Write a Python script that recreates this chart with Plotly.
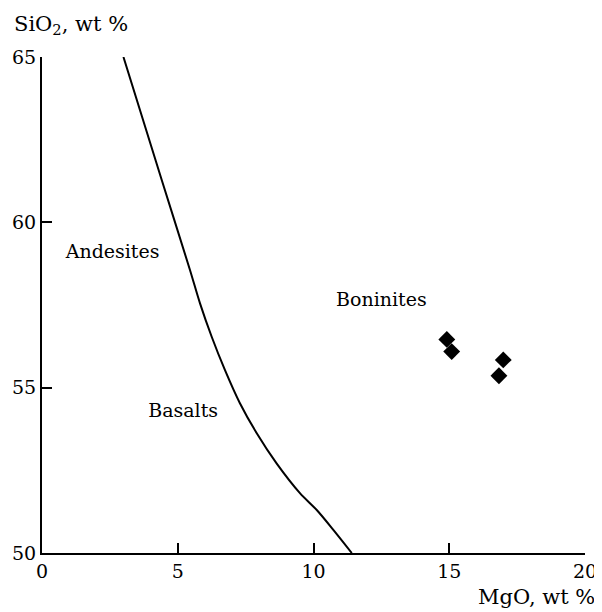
import plotly.graph_objects as go

# Boundary curve (MgO, SiO2)
curve_mgo = [3.0, 4.41, 5.45, 5.82, 6.25, 6.74, 7.29, 7.91, 8.64, 9.50, 10.12, 10.73, 11.41]
curve_sio2 = [65.0, 61.28, 58.56, 57.55, 56.54, 55.53, 54.53, 53.62, 52.71, 51.81, 51.30, 50.70, 50.0]

# Boninite samples
bon_mgo = [14.91, 15.09, 16.99, 16.83]
bon_sio2 = [56.46, 56.09, 55.84, 55.36]

# Field labels
label_text = ["Andesites", "Basalts", "Boninites"]
label_x = [2.60, 5.20, 12.50]
label_y = [59.07, 54.27, 57.60]

x_ticks = [0, 5, 10, 15, 20]
y_ticks = [50, 55, 60, 65]

FONT = "DejaVu Serif"
FS = 19
FS_TITLE = 21

fig = go.Figure()
fig.add_trace(go.Scatter(
    x=curve_mgo, y=curve_sio2, mode="lines",
    line=dict(color="black", width=2, shape="spline", smoothing=0.8),
    hoverinfo="skip", showlegend=False))
fig.add_trace(go.Scatter(
    x=bon_mgo, y=bon_sio2, mode="markers",
    marker=dict(symbol="diamond", size=13, color="black"),
    showlegend=False))
fig.add_trace(go.Scatter(
    x=label_x, y=label_y, mode="text", text=label_text,
    textfont=dict(family=FONT, size=FS, color="black"),
    textposition="middle center", showlegend=False, hoverinfo="skip"))

axis_common = dict(ticks="inside", ticklen=10, tickwidth=1.5, tickcolor="black",
                   showline=True, linecolor="black", linewidth=2, showgrid=False,
                   zeroline=False, automargin=False,
                   tickfont=dict(family=FONT, size=FS, color="black"))

# page body has an 8px margin, so the figure is sized to fit the window
fig.update_layout(
    width=594, height=604,
    margin=dict(l=34, r=17, t=49, b=59),
    paper_bgcolor="white", plot_bgcolor="white",
    font=dict(family=FONT, size=FS, color="black"),
    xaxis=dict(range=[0, 20], tickvals=x_ticks, ticklabelstandoff=0, **axis_common),
    yaxis=dict(range=[50, 65], tickvals=y_ticks, ticklabelstandoff=0, **axis_common),
    annotations=[
        dict(text="SiO<sub>2</sub>, wt %", xref="paper", yref="paper",
             x=-0.055, y=1.0645, xanchor="left", yanchor="middle", showarrow=False,
             font=dict(family=FONT, size=FS_TITLE, color="black")),
        dict(text="MgO, wt %", xref="paper", yref="paper",
             x=1.022, y=-0.0887, xanchor="right", yanchor="middle", showarrow=False,
             font=dict(family=FONT, size=FS_TITLE, color="black")),
    ],
)

fig.write_html("out.html")
